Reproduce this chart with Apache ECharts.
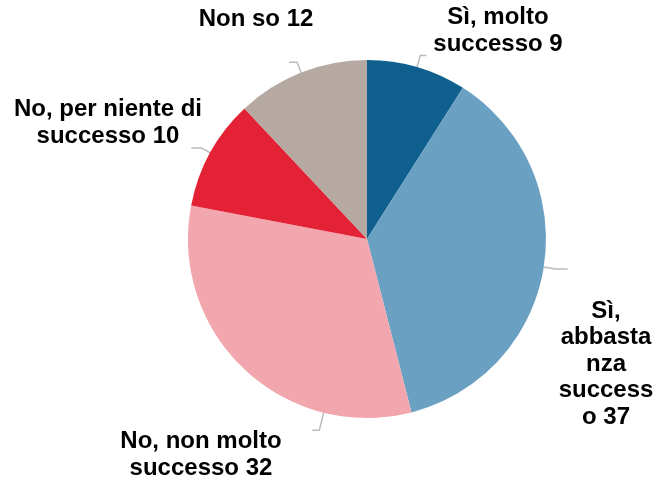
<!DOCTYPE html>
<html><head><meta charset="utf-8">
<script src="https://cdn.jsdelivr.net/npm/echarts@6/dist/echarts.min.js"></script>
<style>html,body{margin:0;padding:0;background:#fff}#c{width:665px;height:486px}</style>
</head><body><div id="c"></div>
<script>
const categories = ['Sì, molto successo', 'Sì, abbastanza successo', 'No, non molto successo', 'No, per niente di successo', 'Non so'];
const values = [9, 37, 32, 10, 12];
const labelTexts = ['Sì, molto\nsuccesso 9', 'Sì,\nabbasta\nnza\nsuccess\no 37', 'No, non molto\nsuccesso 32', 'No, per niente di\nsuccesso 10', 'Non so 12'];
const colors = ['#0f5f8f', '#6aa1c2', '#f2a6ad', '#e32235', '#b5a9a2'];

// layout (not data)
const CENTER = [367, 239];
const RADIUS = 179;
const labelPos = [[498, 31], [606, 364], [201, 455], [108, 123], [256, 19]];
const lineLen = [[12, 6], [12, 12], [18, 7], [10, 10], [11, 8]];
const lineAngleOverride = [null, null, 194, null, null];

const total = values.reduce((a, b) => a + b, 0);
const midAngles = [];
{
  let cum = 0;
  values.forEach(v => { midAngles.push(360 * (cum + v / 2) / total); cum += v; });
}

function linePoints(i) {
  const ang = (lineAngleOverride[i] != null ? lineAngleOverride[i] : midAngles[i]) * Math.PI / 180;
  const dx = Math.sin(ang), dy = -Math.cos(ang);
  const p1 = [CENTER[0] + RADIUS * dx, CENTER[1] + RADIUS * dy];
  const p2 = [p1[0] + dx * lineLen[i][0], p1[1] + dy * lineLen[i][0]];
  const p3 = [p2[0] + (dx < 0 ? -1 : 1) * lineLen[i][1], p2[1]];
  return [p1, p2, p3];
}

const chart = echarts.init(document.getElementById('c'), null, {renderer: 'canvas'});
chart.setOption({
  animation: false,
  series: [{
    type: 'pie',
    center: CENTER,
    radius: RADIUS,
    startAngle: 90,
    clockwise: true,
    avoidLabelOverlap: false,
    silent: true,
    data: categories.map((c, i) => ({name: c, value: values[i], itemStyle: {color: colors[i]}})),
    label: {
      show: true,
      position: 'outer',
      formatter: p => labelTexts[p.dataIndex],
      fontFamily: '"Liberation Sans", Arial, sans-serif',
      fontSize: 24,
      fontWeight: 'bold',
      color: '#000',
      lineHeight: 26.5,
      align: 'center'
    },
    labelLine: {show: true, length: 10, length2: 8, lineStyle: {color: '#bbbbbb', width: 1.5}},
    labelLayout: function (p) {
      const i = p.dataIndex;
      return {
        x: labelPos[i][0], y: labelPos[i][1],
        align: 'center', verticalAlign: 'middle',
        labelLinePoints: linePoints(i)
      };
    }
  }]
});
</script>
</body></html>
